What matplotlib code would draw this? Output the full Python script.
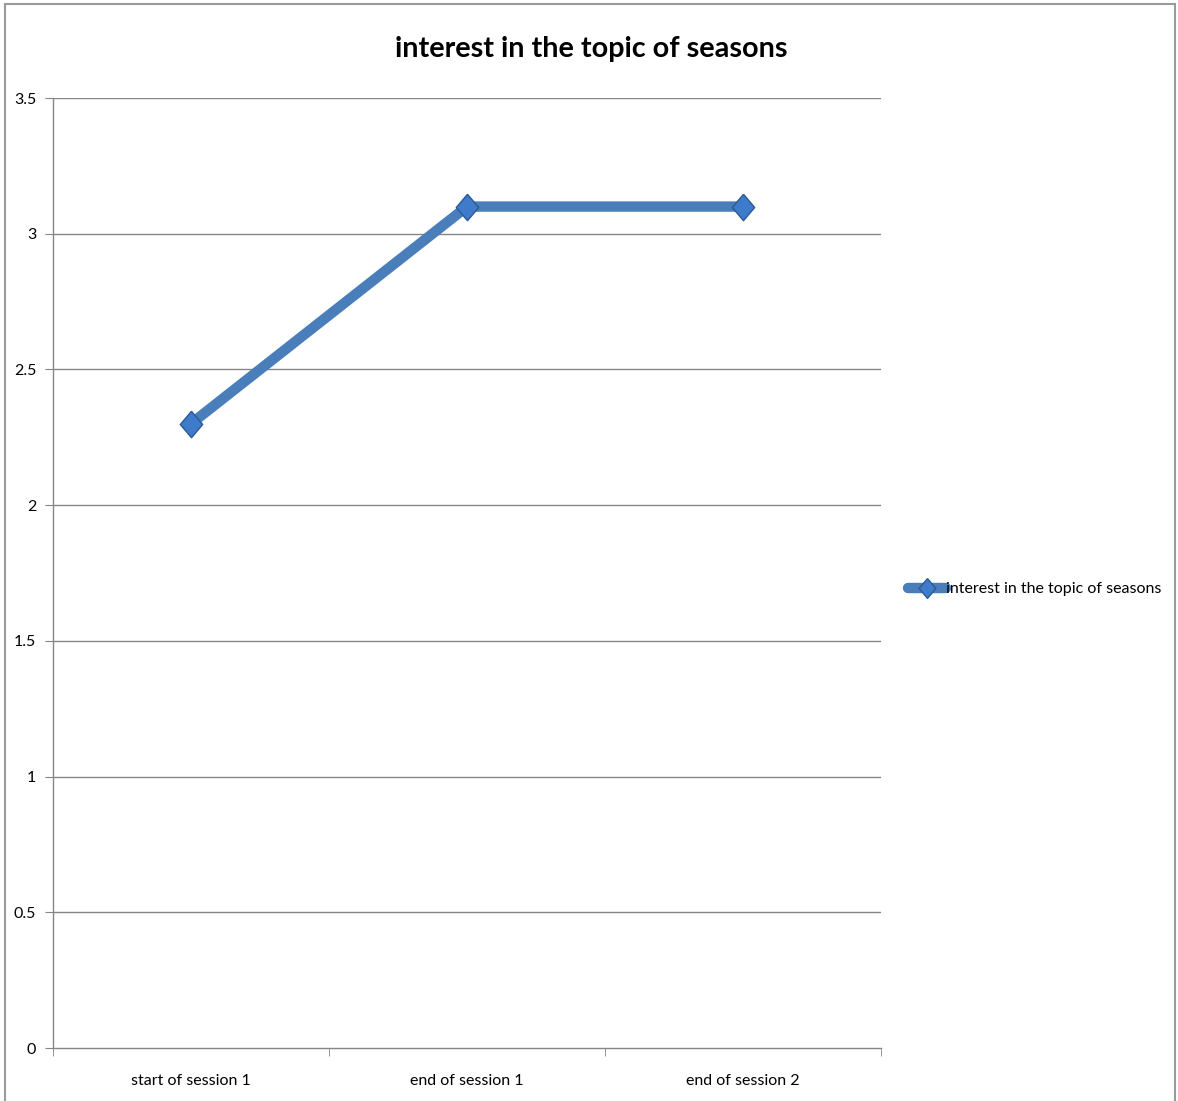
import matplotlib.pyplot as plt
from matplotlib.patches import Rectangle

plt.rcParams['font.family'] = ['Lato', 'DejaVu Sans']

sessions = ['start of session 1', 'end of session 1', 'end of session 2']
interest = [2.3, 3.1, 3.1]
y_ticks = [0, 0.5, 1, 1.5, 2, 2.5, 3, 3.5]
y_labels = ['0', '0.5', '1', '1.5', '2', '2.5', '3', '3.5']
series_name = 'interest in the topic of seasons'

W, H = 1178, 1101
fig = plt.figure(figsize=(W / 100, H / 100), dpi=100)

# outer chart frame (bottom edge runs off the image)
fig.patches.append(Rectangle((5 / W, -0.05), 1170 / W, 1 - 4 / H + 0.05,
                             transform=fig.transFigure, fill=False,
                             edgecolor='#9a9a9a', linewidth=1.5))

ax = fig.add_axes([53 / W, 1 - 1048 / H, (881 - 53) / W, (1048 - 98) / H])

grid_c = '#868686'
for y in y_ticks[1:]:
    ax.axhline(y, color=grid_c, linewidth=1, zorder=1)

x = list(range(len(sessions)))
diamond = [(0, 1), (0.85, 0), (0, -1), (-0.85, 0), (0, 1)]
ax.plot(x, interest, color='#4a7ebb', linewidth=7.5, solid_capstyle='round',
        marker=diamond, markersize=19, markerfacecolor='#3f7bcb',
        markeredgecolor='#2b5a94', markeredgewidth=1, zorder=3,
        label=series_name)

ax.set_xlim(-0.5, 2.5)
ax.set_ylim(0, 3.5)
ax.set_yticks(y_ticks)
ax.set_yticklabels(y_labels)
ax.set_xticks(x)
ax.set_xticklabels(sessions)
ax.set_xticks([-0.5, 0.5, 1.5, 2.5], minor=True)

ax.tick_params(axis='x', which='major', length=0, pad=19, labelsize=11.5)
ax.tick_params(axis='x', which='minor', length=6, color=grid_c, direction='out')
ax.tick_params(axis='y', length=6, color=grid_c, direction='out', pad=6,
               labelsize=11.5)

for side in ['top', 'right']:
    ax.spines[side].set_visible(False)
for side in ['left', 'bottom']:
    ax.spines[side].set_color(grid_c)
    ax.spines[side].set_linewidth(1)

fig.text(591 / W, 1 - 49 / H, 'interest in the topic of seasons',
         ha='center', va='center', fontsize=20.7, fontweight='bold')

fig.legend(loc='center left', bbox_to_anchor=(908 / W, 1 - 589 / H),
           frameon=False, fontsize=11.5, handlelength=2.4, handletextpad=0.0,
           borderpad=0, borderaxespad=0, markerscale=0.75)

fig.savefig('out.png', dpi=100)
